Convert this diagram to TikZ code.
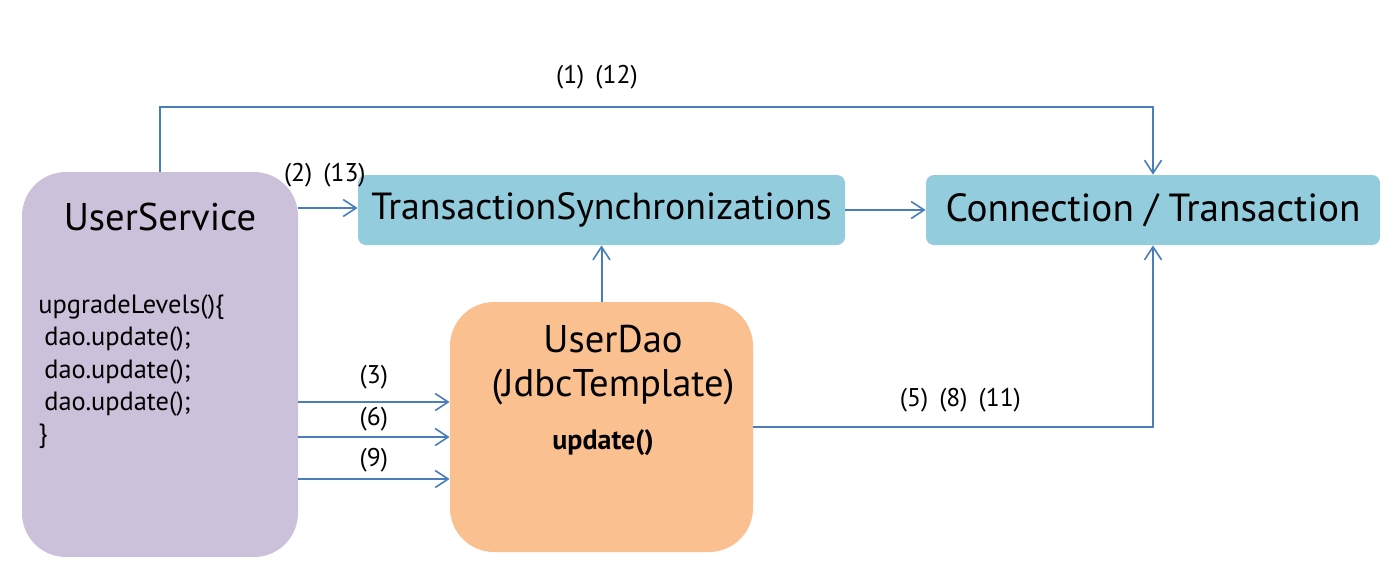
\documentclass[tikz,border=0pt]{standalone}
\usepackage{fontspec}
\setmainfont{PT Sans}
\usetikzlibrary{arrows.meta}
\definecolor{svcfill}{HTML}{CCC1DA}
\definecolor{syncfill}{HTML}{93CDDD}
\definecolor{daofill}{HTML}{FAC090}
\definecolor{flowline}{HTML}{4A7EBB}
\begin{document}
\begin{tikzpicture}[x=0.5pt,y=-0.5pt]
\useasboundingbox (0,0) rectangle (1386,570);
\tikzset{bigbox/.style={fill=#1,draw=none,rounded corners=22pt,inner sep=0pt}};
\tikzset{flatbox/.style={fill=syncfill,draw=none,rounded corners=4pt,inner sep=0pt,minimum height=35pt}};
\tikzset{flow/.style={draw=flowline,line width=1pt,-{Straight Barb[length=6.5pt,width=8.5pt,line width=0.8pt]}}};
\tikzset{step label/.style={font=\fontsize{12.8}{14}\selectfont,inner sep=1pt}};

\node[bigbox=svcfill,minimum width=138pt,minimum height=192.5pt] (US) at (160,364.5) {};
\node[bigbox=daofill,minimum width=151.5pt,minimum height=125pt] (UD) at (601.5,427) {};
\node[flatbox,minimum width=243.5pt,font=\fontsize{18.9}{22}\selectfont] (TS) at (601.5,210) {TransactionSynchronizations};
\node[flatbox,minimum width=227pt,font=\fontsize{19.6}{22}\selectfont] (CT) at (1153,210) {Connection / Transaction};

\node[font=\fontsize{19.3}{22}\selectfont] (USname) at (160,217) {UserService};
\node[anchor=north west,align=left,inner sep=0pt,font=\fontsize{13.2}{16.2}\selectfont] (UScode) at (38,294)
  {upgradeLevels()\{\\\hspace{3pt}dao.update();\\\hspace{3pt}dao.update();\\\hspace{3pt}dao.update();\\\}};
\node[align=center,font=\fontsize{19.3}{22}\selectfont] (UDname) at (613,365) {UserDao\\(JdbcTemplate)};
\node[font=\bfseries\fontsize{14}{16}\selectfont] (UDop) at (603,443) {update()};

\coordinate (s2) at (298,208);
\coordinate (s3) at (298,402);
\coordinate (s6) at (298,437);
\coordinate (s9) at (298,479);

\draw[flow] (US.north) -- ++(0,-65) -| node[step label,pos=0.22,above=7pt] {(1)\, (12)} (CT.north);
\draw[flow] (s2) -- node[step label,pos=0.45,above=9pt] {(2)\, (13)} (s2 -| TS.west);
\draw[flow] (TS.east) -- (CT.west);
\draw[flow] (UD.north) -- (TS.south);
\draw[flow] (s3) -- node[step label,above=5pt] {(3)} (s3 -| UD.west);
\draw[flow] (s6) -- node[step label,above=1.5pt] {(6)} (s6 -| UD.west);
\draw[flow] (s9) -- node[step label,above=2pt] {(9)} (s9 -| UD.west);
\draw[flow] (UD.east) -| node[step label,pos=0.259,above=6pt] {(5)\, (8)\, (11)} (CT.south);
\end{tikzpicture}
\end{document}
